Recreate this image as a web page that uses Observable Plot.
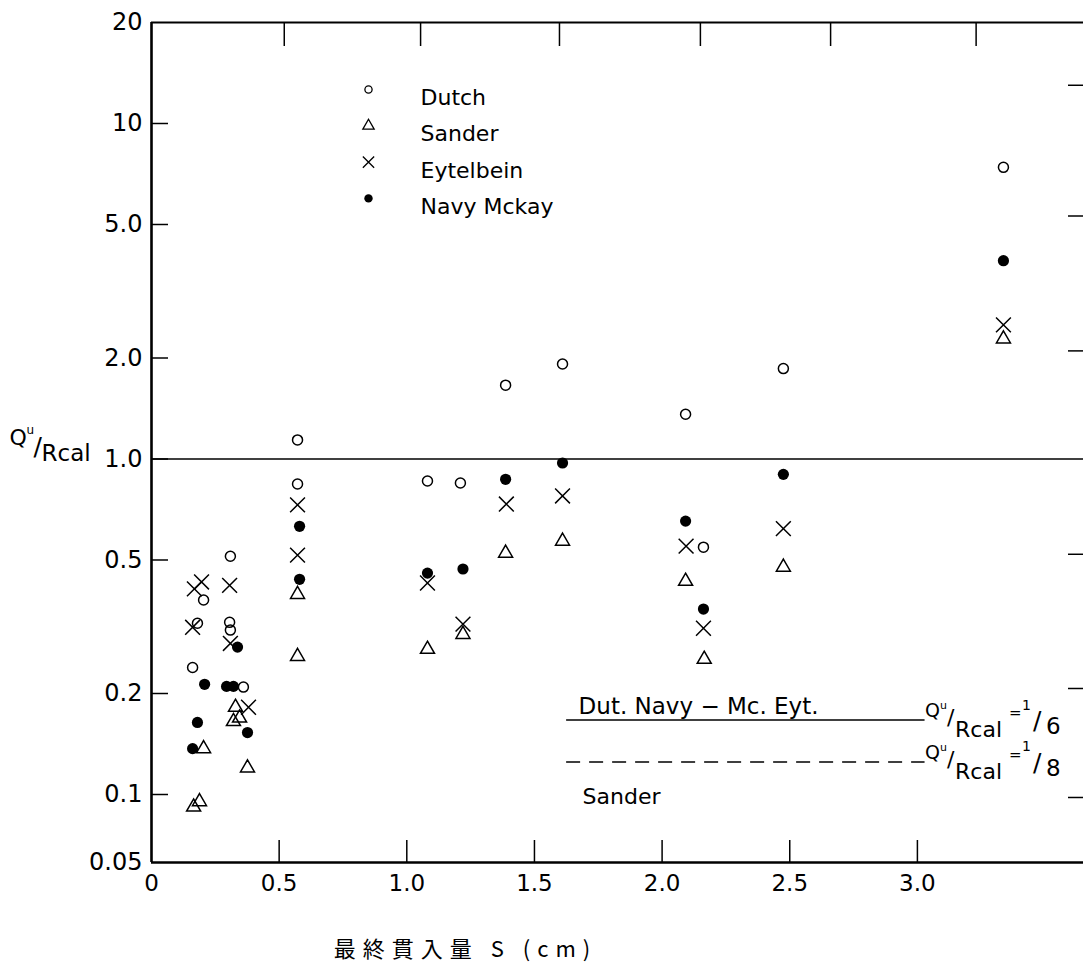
<!DOCTYPE html>
<html>
<head>
<meta charset="utf-8">
<script src="https://cdn.jsdelivr.net/npm/d3@7"></script>
<script src="https://cdn.jsdelivr.net/npm/@observablehq/plot@0.6"></script>
<style>
  html, body { margin: 0; padding: 0; background: #fff; }
  #chart svg { display: block; }
</style>
</head>
<body>
<div id="chart"></div>
<script>
// ---------- data ----------
const xTicks = [0, 0.5, 1.0, 1.5, 2.0, 2.5, 3.0];
const xTickLabels = ["0", "0.5", "1.0", "1.5", "2.0", "2.5", "3.0"];
const topTicks = [0.52, 1.054, 1.598, 2.15, 2.66, 3.23];
const yTicks = [0.05, 0.1, 0.2, 0.5, 1, 2, 5, 10, 20];
const yTickLabels = ["0.05", "0.1", "0.2", "0.5", "1.0", "2.0", "5.0", "10", "20"];
const rightTicks = [0.097, 0.207, 0.52, 2.1, 5.3, 13];

// [S (cm), Qu/Rcal]
const dutch = [
  [0.161, 0.239], [0.18, 0.324], [0.204, 0.38], [0.306, 0.326], [0.309, 0.309], [0.309, 0.513], [0.36, 0.209],
  [0.572, 1.14], [0.572, 0.842],
  [1.081, 0.86], [1.21, 0.848],
  [1.387, 1.66], [1.61, 1.92], [2.092, 1.36], [2.162, 0.546], [2.475, 1.86], [3.337, 7.4]
];
const sander = [
  [0.165, 0.088], [0.188, 0.093], [0.204, 0.137], [0.321, 0.165], [0.329, 0.182], [0.345, 0.169], [0.376, 0.12],
  [0.572, 0.395], [0.572, 0.258],
  [1.081, 0.271], [1.22, 0.30],
  [1.387, 0.524], [1.61, 0.569], [2.092, 0.432], [2.165, 0.253], [2.475, 0.476], [3.337, 2.28]
];
const eytelbein = [
  [0.168, 0.41], [0.196, 0.43], [0.306, 0.42], [0.161, 0.315], [0.309, 0.282], [0.38, 0.182],
  [0.572, 0.73], [0.572, 0.517],
  [1.081, 0.427], [1.22, 0.322],
  [1.39, 0.734], [1.61, 0.776], [2.094, 0.55], [2.162, 0.313], [2.475, 0.62], [3.337, 2.51]
];
const navy = [
  [0.337, 0.275], [0.208, 0.213], [0.294, 0.21], [0.321, 0.21], [0.18, 0.164], [0.376, 0.153], [0.161, 0.137],
  [0.58, 0.63], [0.58, 0.438],
  [1.081, 0.457], [1.22, 0.47],
  [1.387, 0.87], [1.61, 0.973], [2.092, 0.653], [2.162, 0.357], [2.475, 0.90], [3.337, 3.9]
];
const seriesNames = ["Dutch", "Sander", "Eytelbein", "Navy Mckay"];
const refLines = [
  {q: 1 / 6, from: 1.626, to: 3.03, den: "6", group: "Dut. Navy − Mc. Eyt."},
  {q: 1 / 8, from: 1.626, to: 3.03, den: "8", group: "Sander"}
];
const xTitle = "最終貫入量 S (cm)";

// ---------- layout ----------
const W = 1083, H = 975, mL = 151, mR = 0, mT = 22, mB = 113;
const innerW = W - mL - mR, innerH = H - mT - mB;
const pxPerUnit = 255.3;
const FONT = "'DejaVu Sans', sans-serif";
const INK = "black";
const xLab = new Map(xTicks.map((d, i) => [d, xTickLabels[i]]));
const yLab = new Map(yTicks.map((d, i) => [d, yTickLabels[i]]));

const symbolStyles = [
  {symbol: "circle", r: 5, fill: "none", stroke: INK, strokeWidth: 1.5},
  {symbol: "triangle", r: 5.2, fill: "none", stroke: INK, strokeWidth: 1.5},
  {symbol: "times", r: 6.8, fill: "none", stroke: INK, strokeWidth: 1.5},
  {symbol: "circle", r: 5.6, fill: INK, stroke: "none"}
];
const legendStyles = [
  {symbol: "circle", r: 3.6, fill: "none", stroke: INK, strokeWidth: 1.3},
  {symbol: "triangle", r: 4.2, fill: "none", stroke: INK, strokeWidth: 1.3},
  {symbol: "times", r: 5.2, fill: "none", stroke: INK, strokeWidth: 1.3},
  {symbol: "circle", r: 4.2, fill: INK, stroke: "none"}
];
const allSeries = [dutch, sander, eytelbein, navy];

// fraction label "Qu/Rcal = 1/n" at the right end of a reference line
function ratioLabel(line) {
  const base = {x: d => d.to, y: d => d.q, textAnchor: "start", fill: INK};
  const parts = [
    {t: "Q", dx: 0, dy: -9, fs: 19},
    {t: "u", dx: 15, dy: -15, fs: 11},
    {t: "/", dx: 22, dy: -2, fs: 22},
    {t: "Rcal", dx: 30, dy: 10, fs: 22},
    {t: "=", dx: 84, dy: -7, fs: 15},
    {t: "1", dx: 97, dy: -15, fs: 14},
    {t: "/", dx: 108, dy: 1, fs: 25},
    {t: line.den, dx: 121, dy: 7, fs: 23}
  ];
  return parts.map(p => Plot.text([line], {...base, text: () => p.t, dx: p.dx, dy: p.dy, fontSize: p.fs}));
}

// y-axis title "Qu/Rcal" composed of pieces beside the 1.0 tick
const yTitleParts = [
  {t: "Q", dx: -142, dy: -21, fs: 22},
  {t: "u", dx: -125, dy: -29, fs: 12},
  {t: "/", dx: -118, dy: -12, fs: 25},
  {t: "Rcal", dx: -110, dy: -5, fs: 23}
];

const marks = [
  // frame
  Plot.ruleY([1], {stroke: INK, strokeWidth: 1.7}),
  Plot.ruleY([20], {stroke: INK, strokeWidth: 2}),
  Plot.ruleY([0.05], {stroke: INK, strokeWidth: 2.6}),
  Plot.ruleX([0], {stroke: INK, strokeWidth: 2.6}),
  // inward ticks
  Plot.tickY(yTicks.filter(v => v > 0.05 && v < 20), {y: d => d, insetRight: innerW - 17, stroke: INK, strokeWidth: 1.5}),
  Plot.tickY(rightTicks, {y: d => d, insetLeft: innerW - 15, stroke: INK, strokeWidth: 1.5}),
  Plot.tickX(xTicks.filter(v => v > 0), {x: d => d, insetTop: innerH - 22, stroke: INK, strokeWidth: 1.5}),
  Plot.tickX(topTicks, {x: d => d, insetBottom: innerH - 24, stroke: INK, strokeWidth: 1.5}),
  // tick labels
  Plot.axisY(yTicks, {tickSize: 0, tickPadding: 9, tickFormat: d => yLab.get(d), fontSize: 24, fill: INK, label: null}),
  Plot.axisX(xTicks, {tickSize: 0, tickPadding: 12, tickFormat: d => xLab.get(d), fontSize: 23, fill: INK, label: null}),
  // axis titles
  ...yTitleParts.map(p => Plot.text([1], {frameAnchor: "left", y: d => d, text: () => p.t, dx: p.dx, dy: p.dy, fontSize: p.fs, textAnchor: "start", fill: INK})),
  Plot.text([xTitle], {frameAnchor: "bottom-left", text: d => d, dx: 314, dy: 94, fontSize: 22, textAnchor: "middle", fill: INK, fontFamily: "'Noto Sans CJK JP', sans-serif"}),
  // reference lines
  Plot.ruleY([refLines[0]], {y: d => d.q, x1: d => d.from, x2: d => d.to, stroke: INK, strokeWidth: 1.4}),
  Plot.ruleY([refLines[1]], {y: d => d.q, x1: d => d.from, x2: d => d.to, stroke: INK, strokeWidth: 1.4, strokeDasharray: "14,9"}),
  Plot.text([refLines[0]], {x: d => d.from, y: d => d.q, text: d => d.group, dx: 12, dy: -13, fontSize: 23, textAnchor: "start", fill: INK}),
  Plot.text([refLines[1]], {x: d => d.from, y: d => d.q, text: d => d.group, dx: 16, dy: 35, fontSize: 22, textAnchor: "start", fill: INK}),
  ...refLines.flatMap(ratioLabel),
  // data
  ...allSeries.map((s, i) => Plot.dot(s, {x: d => d[0], y: d => d[1], ...symbolStyles[i]})),
  // legend
  ...seriesNames.flatMap((name, i) => [
    Plot.dot([name], {frameAnchor: "top-left", dx: 217, dy: 67 + i * 36.3, ...legendStyles[i]}),
    Plot.text([name], {frameAnchor: "top-left", text: d => d, dx: 269, dy: 67 + i * 36.3, fontSize: 22, textAnchor: "start", fill: INK})
  ])
];

const chart = Plot.plot({
  width: W, height: H,
  marginLeft: mL, marginRight: mR, marginTop: mT, marginBottom: mB,
  style: {fontFamily: FONT, background: "white", color: INK, overflow: "visible"},
  x: {domain: [0, innerW / pxPerUnit], axis: null},
  // the drawn axis is compressed below 0.1: piecewise log scale
  y: {type: "log", domain: [0.05, 0.1, 20], range: [H - mB, 794, mT], axis: null},
  marks
});

d3.select(chart).selectAll("text")
  .filter(function () { return this.textContent === xTitle; })
  .attr("letter-spacing", "7px");

document.getElementById("chart").append(chart);
</script>
</body>
</html>
